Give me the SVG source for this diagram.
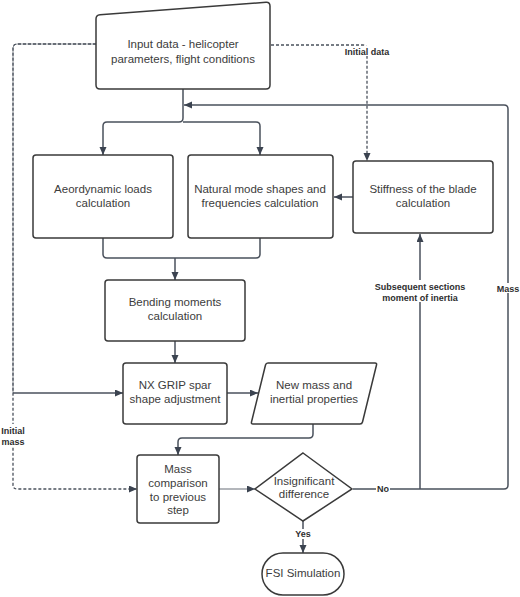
<svg xmlns="http://www.w3.org/2000/svg" width="520" height="597" viewBox="0 0 520 597">
<defs>
<marker id="ah" markerWidth="9" markerHeight="8" refX="8" refY="3.5" orient="auto" markerUnits="userSpaceOnUse">
<path d="M0,0 L8,3.5 L0,7 z" fill="#3b4350"/>
</marker>
<style>
.node{fill:#fff;stroke:#3a3a3a;stroke-width:1.5}
.t{font-family:"Liberation Sans",Arial,sans-serif;font-size:11.5px;fill:#3c3c3c;text-anchor:middle}
.lb{font-family:"Liberation Sans",Arial,sans-serif;font-size:9px;font-weight:bold;fill:#2e2e2e;text-anchor:middle}
.c{fill:none;stroke:#4a515c;stroke-width:1.5}
.d{fill:none;stroke:#4a515c;stroke-width:1.3;stroke-dasharray:3,2}
.bg{fill:#fff}
</style>
</defs>
<rect width="520" height="597" fill="#fff"/>
<g id="connectors">
<path class="c" d="M183,89 V118 Q183,122 179,122 H107 Q103,122 103,126 V155" marker-end="url(#ah)"/>
<path class="c" d="M183,122 H256 Q260,122 260,126 V155" marker-end="url(#ah)"/>
<path class="c" d="M353,489 H504 Q508,489 508,485 V109 Q508,105 504,105 H184" marker-end="url(#ah)"/>
<path class="c" d="M420,489 V234" marker-end="url(#ah)"/>
<path class="c" d="M353,197 H334" marker-end="url(#ah)"/>
<path class="d" d="M271,45 H363 Q367,45 367,49 V161" marker-end="url(#ah)"/>
<path class="c" d="M103,238 V254 Q103,258 107,258 H256 Q260,258 260,254 V238"/>
<path class="c" d="M175,258 V280" marker-end="url(#ah)"/>
<path class="c" d="M175,341 V363" marker-end="url(#ah)"/>
<path fill="none" stroke="#8a8f96" stroke-width="1" d="M96,44 H17 Q13,44 13,48 V393"/>
<path class="c" d="M13,393 H123" marker-end="url(#ah)"/>
<path class="d" d="M96,44 H17 Q13,44 13,48 V485 Q13,489 17,489 H137" marker-end="url(#ah)"/>
<path class="c" d="M227,393 H258" marker-end="url(#ah)"/>
<path class="c" d="M313,424 V434 Q313,438 309,438 H182 Q178,438 178,442 V455" marker-end="url(#ah)"/>
<path fill="none" stroke="#9a9ea4" stroke-width="1.3" d="M219,489 H255" marker-end="url(#ah)"/>
<path class="c" d="M303,521 V553" marker-end="url(#ah)"/>
</g>
<g id="labels">
<rect class="bg" x="344" y="46" width="46" height="10"/>
<text class="lb" x="367" y="55">Initial data</text>
<rect class="bg" x="372" y="280" width="96" height="22"/>
<text class="lb" x="420" y="290">Subsequent sections</text>
<text class="lb" x="420" y="301">moment of inertia</text>
<rect class="bg" x="494" y="283" width="28" height="10"/>
<text class="lb" x="508" y="292">Mass</text>
<rect class="bg" x="1" y="424" width="25" height="22"/>
<text class="lb" x="13" y="434">Initial</text>
<text class="lb" x="13" y="445">mass</text>
<rect class="bg" x="376" y="484" width="14" height="10"/>
<text class="lb" x="383" y="492">No</text>
<rect class="bg" x="294" y="529" width="18" height="10"/>
<text class="lb" x="303" y="537">Yes</text>
</g>
<g id="input">
<path class="node" d="M96,19 Q96,15 100,14.7 L266,2.3 Q270,2 270,6 V85 Q270,89 266,89 H100 Q96,89 96,85 Z"/>
<text class="t" x="183" y="48">Input data - helicopter</text>
<text class="t" x="183" y="63">parameters, flight conditions</text>
</g>
<g id="aero">
<rect class="node" x="33" y="155" width="140" height="83" rx="3" stroke-width="2"/>
<text class="t" x="103" y="193">Aeordynamic loads</text>
<text class="t" x="103" y="207">calculation</text>
</g>
<g id="natural">
<rect class="node" x="188" y="155" width="145" height="83" rx="3"/>
<text class="t" x="260" y="193">Natural mode shapes and</text>
<text class="t" x="260" y="207">frequencies calculation</text>
</g>
<g id="stiffness">
<rect class="node" x="353" y="161" width="140" height="72" rx="3"/>
<text class="t" x="423" y="193">Stiffness of the blade</text>
<text class="t" x="423" y="207">calculation</text>
</g>
<g id="bending">
<rect class="node" x="105" y="280" width="140" height="61" rx="3" stroke-width="1.8"/>
<text class="t" x="175" y="306">Bending moments</text>
<text class="t" x="175" y="320">calculation</text>
</g>
<g id="nxgrip">
<rect class="node" x="123" y="363" width="104" height="61" rx="3" stroke-width="1.8"/>
<text class="t" x="175" y="389">NX GRIP spar</text>
<text class="t" x="175" y="403">shape adjustment</text>
</g>
<g id="newmass">
<path class="node" d="M268,363 H375 Q377,363 376.5,365 L362.5,422 Q362,424 360,424 H253 Q251,424 251.5,422 L265.5,365 Q266,363 268,363 Z"/>
<text class="t" x="314" y="389">New mass and</text>
<text class="t" x="314" y="403">inertial properties</text>
</g>
<g id="masscomp">
<rect class="node" x="137" y="455" width="82" height="68" rx="3"/>
<text class="t" x="178" y="473">Mass</text>
<text class="t" x="178" y="487">comparison</text>
<text class="t" x="178" y="501">to previous</text>
<text class="t" x="178" y="514">step</text>
</g>
<g id="decision">
<path class="node" d="M303,453 L352,489 L303,521 L255,489 Z"/>
<text class="t" x="304" y="485">Insignificant</text>
<text class="t" x="304" y="498">difference</text>
</g>
<g id="fsi">
<rect class="node" x="262" y="553" width="82" height="42" rx="21"/>
<text class="t" x="303" y="577">FSI Simulation</text>
</g>
</svg>
